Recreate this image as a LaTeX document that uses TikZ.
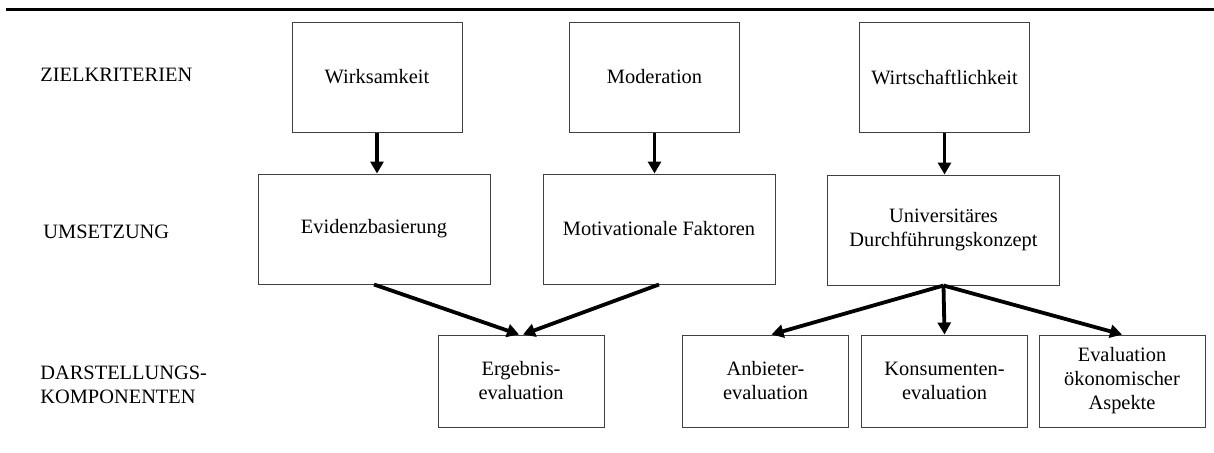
\documentclass[tikz,border=0pt]{standalone}
\usepackage{fontspec}
\setmainfont{Liberation Serif}
\usetikzlibrary{arrows.meta}
\begin{document}
\begin{tikzpicture}[x=0.5pt,y=-0.5pt,
  every node/.style={font=\fontsize{10.2pt}{12pt}\selectfont},
  box/.style={draw=black!75,line width=0.5pt,inner sep=0pt,align=center},
  topbox/.style={box,minimum width=85pt,minimum height=55pt},
  midbox/.style={box,minimum width=116pt,minimum height=55pt},
  botbox/.style={box,minimum width=83pt,minimum height=46pt},
  lbl/.style={anchor=west,align=left,inner sep=0pt},
  arr/.style={-{Triangle[length=6pt,width=6.5pt]},line width=1.9pt}]
\useasboundingbox (0,0) rectangle (1214,452);
\coordinate (l0) at (6,9);
\coordinate (l1) at (1214,9);
\draw[line width=1.5pt] (l0) -- (l1);
% row labels
\node[lbl] (z) at (40,75) {ZIELKRITERIEN};
\node[lbl] (u) at (43,232) {UMSETZUNG};
\node[lbl] (d) at (40,385) {DARSTELLUNGS-\\KOMPONENTEN};
% top row
\node[topbox] (w1) at (377,77) {Wirksamkeit};
\node[topbox] (w2) at (654.5,77) {Moderation};
\node[topbox] (w3) at (944.5,77) {Wirtschaftlichkeit};
% middle row
\node[midbox] (u1) at (374,229) {Evidenzbasierung};
\node[midbox] (u2) at (659,229) {Motivationale Faktoren};
\node[midbox] (u3) at (943.5,230) {Universitäres\\Durchführungskonzept};
% bottom row
\node[botbox] (d1) at (521,381) {Ergebnis-\\evaluation};
\node[botbox] (d2) at (765.5,381) {Anbieter-\\evaluation};
\node[botbox] (d3) at (944.5,381) {Konsumenten-\\evaluation};
\node[botbox] (d4) at (1122,381) {Evaluation\\ökonomischer\\Aspekte};
% arrows
\draw[arr] (w1.south) -- (w1.south |- u1.north);
\draw[arr] (w2.south) -- (w2.south |- u2.north);
\draw[arr] (w3.south) -- (w3.south |- u3.north);
\draw[arr] (u1.south) -- ([xshift=-1pt]d1.north);
\draw[arr] (u2.south) -- ([xshift=1pt]d1.north);
\draw[arr] (u3.south) -- ([xshift=3pt]d2.north);
\draw[arr] (u3.south) -- (d3.north);
\draw[arr] (u3.south) -- (d4.north);
\end{tikzpicture}
\end{document}
